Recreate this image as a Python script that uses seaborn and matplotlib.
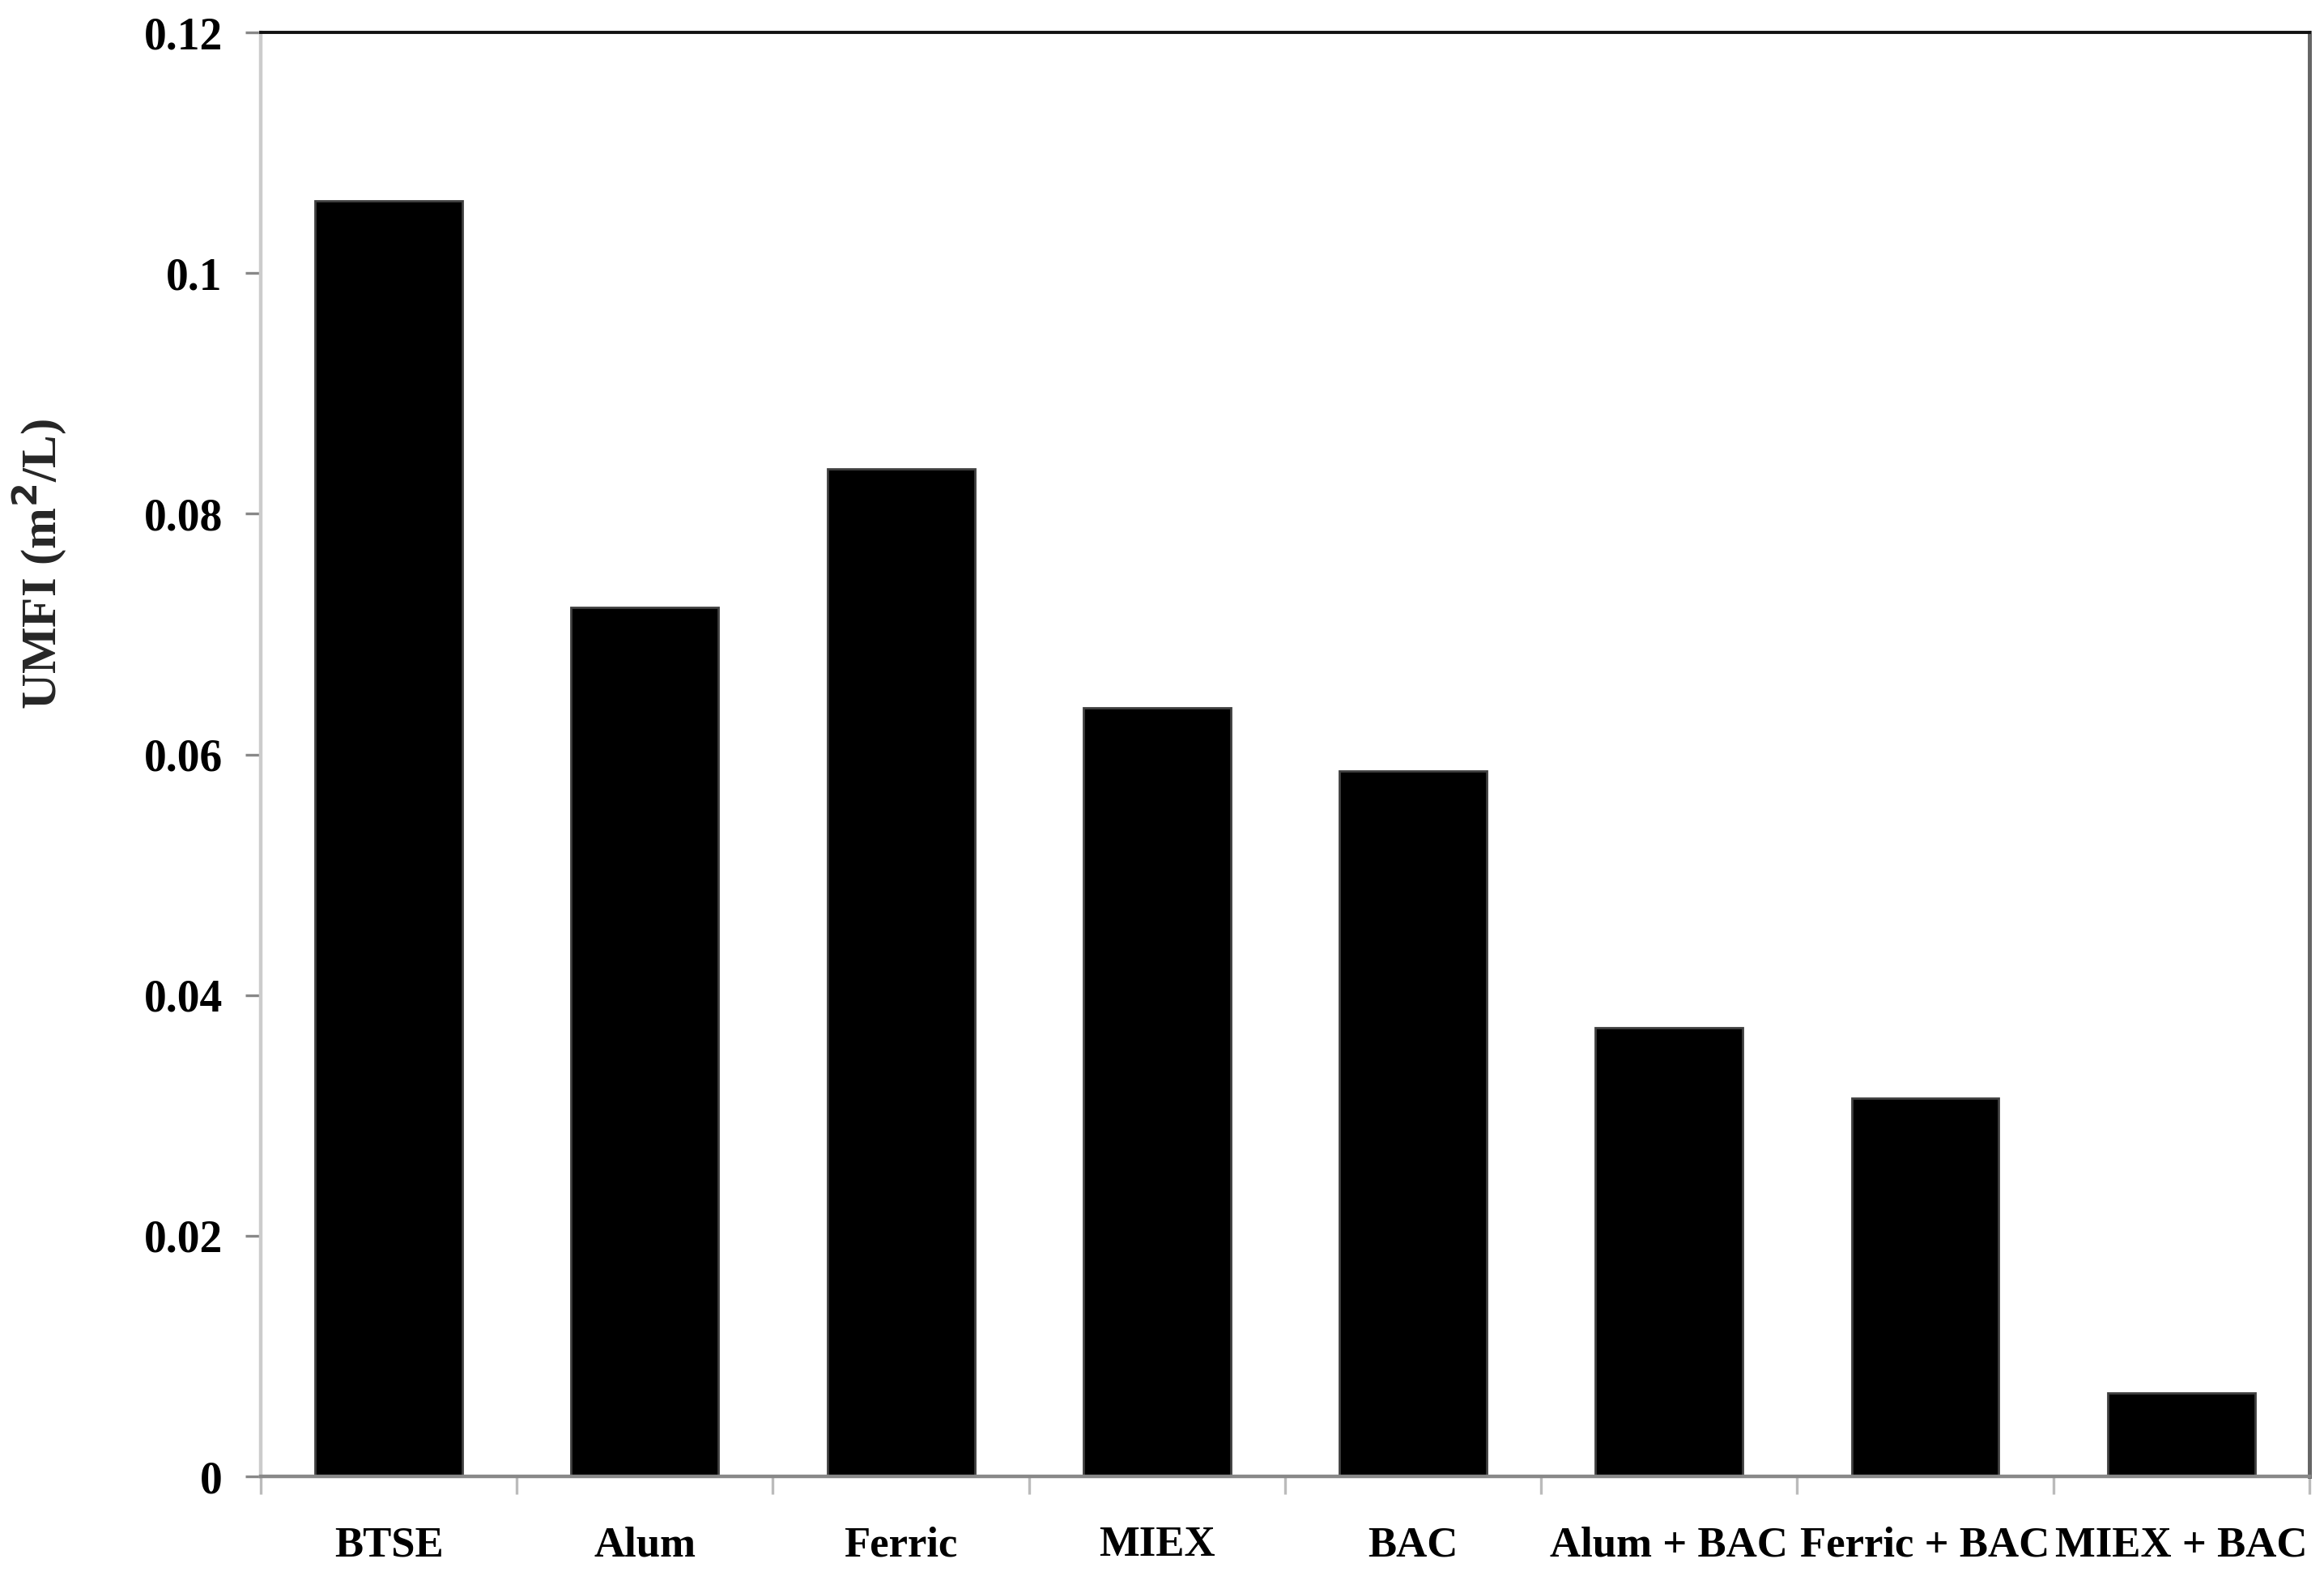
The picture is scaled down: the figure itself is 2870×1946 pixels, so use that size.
import matplotlib
matplotlib.use("Agg")
import matplotlib.pyplot as plt
import seaborn as sns
import pandas as pd
from matplotlib.ticker import FixedLocator

categories = ["BTSE", "Alum", "Ferric", "MIEX", "BAC", "Alum + BAC", "Ferric + BAC", "MIEX + BAC"]
umfi = [0.1060, 0.0722, 0.0837, 0.0639, 0.0586, 0.0373, 0.0314, 0.0069]
yticks = [0, 0.02, 0.04, 0.06, 0.08, 0.1, 0.12]
ytick_labels = ["0", "0.02", "0.04", "0.06", "0.08", "0.1", "0.12"]

sns.set_theme(style="white")
plt.rcParams['font.family'] = ['Liberation Serif', 'DejaVu Serif']
plt.rcParams['font.weight'] = 'bold'

df = pd.DataFrame({"Treatment": categories, "UMFI": umfi})

fig = plt.figure(figsize=(14.35, 9.73), dpi=200)
ax = fig.add_axes([0.1122, 0.0632, 0.9937 - 0.1122, 0.9794 - 0.0632])

sns.barplot(data=df, x="Treatment", y="UMFI", order=categories, color="black",
            width=0.575, edgecolor="#404040", linewidth=1.0, saturation=1, ax=ax)

ax.set_xlim(-0.5, len(categories) - 0.5)
ax.set_ylim(0, 0.12)
ax.set_yticks(yticks)
ax.set_yticklabels(ytick_labels)

ax.set_xticks(range(len(categories)))
ax.set_xticklabels(categories)
ax.xaxis.set_minor_locator(FixedLocator([i - 0.5 for i in range(len(categories) + 1)]))
ax.tick_params(axis="x", which="major", length=0, pad=22, labelsize=19, colors="black")
ax.tick_params(axis="x", which="minor", length=8, width=1.2, color="#bbbbbb", direction="out", bottom=True)
ax.tick_params(axis="y", which="major", length=7, width=1.2, color="#888888", direction="out",
               left=True, pad=10, labelsize=20, labelcolor="black")

for lab in ax.get_xticklabels() + ax.get_yticklabels():
    lab.set_fontweight("bold")

ax.set_xlabel("")
ax.set_ylabel("UMFI (m$^\\mathbf{2}$/L)", fontsize=22, fontweight="bold")
ax.yaxis.set_label_coords(-0.094, 0.632)

ax.spines["left"].set_color("#cccccc")
ax.spines["left"].set_linewidth(1.6)
ax.spines["bottom"].set_color("#888888")
ax.spines["bottom"].set_linewidth(1.6)
ax.spines["top"].set_color("#111111")
ax.spines["top"].set_linewidth(1.4)
ax.spines["right"].set_color("#666666")
ax.spines["right"].set_linewidth(1.8)
for s in ax.spines.values():
    s.set_visible(True)

ax.grid(False)
fig.savefig("out.png", dpi=200, facecolor="white")
